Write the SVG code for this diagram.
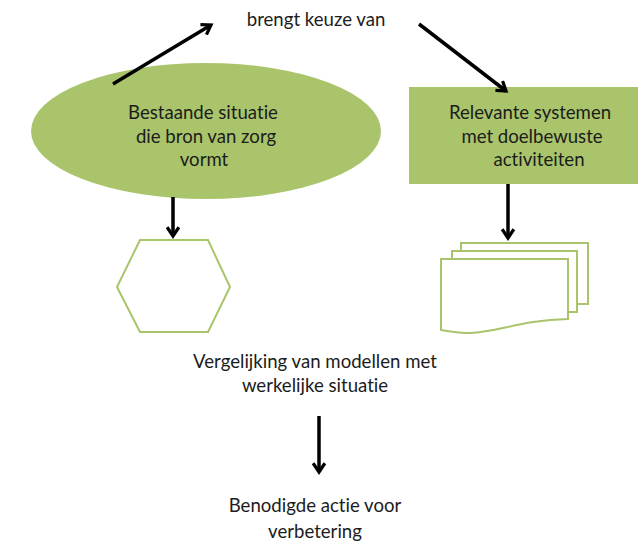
<svg xmlns="http://www.w3.org/2000/svg" width="638" height="541" viewBox="0 0 638 541">
  <style>
    .lbl { font-family: Lato, "Open Sans", "Liberation Sans", sans-serif; font-size: 18.6px; fill: #1c1c1c; text-anchor: middle; font-variant-ligatures: none; font-feature-settings: "liga" 0, "dlig" 0; }
    .fill { fill: #a9c46a; }
    .outline { fill: #ffffff; stroke: #a9c46a; stroke-width: 2; }
    .conn { stroke: #000000; stroke-width: 3.5; fill: none; marker-end: url(#chev); }
  </style>
  <defs>
    <marker id="chev" viewBox="0 0 10 10" refX="8" refY="5" markerWidth="4.2" markerHeight="4.2" orient="auto" markerUnits="strokeWidth">
      <path d="M2,1 L8,5 L2,9" fill="none" stroke="#000" stroke-width="2.2"/>
    </marker>
  </defs>

  <g id="title-label">
    <text class="lbl" x="316" y="26">brengt keuze van</text>
  </g>

  <g id="existing-situation">
    <ellipse class="fill" cx="206" cy="131" rx="175" ry="68"/>
    <text class="lbl" x="203" y="119">Bestaande situatie</text>
    <text class="lbl" x="206" y="143">die bron van zorg</text>
    <text class="lbl" x="204" y="166">vormt</text>
  </g>

  <g id="relevant-systems">
    <rect class="fill" x="409" y="87" width="229" height="97"/>
    <text class="lbl" x="530" y="119">Relevante systemen</text>
    <text class="lbl" x="532" y="143">met doelbewuste</text>
    <text class="lbl" x="539" y="166">activiteiten</text>
  </g>

  <g id="hexagon">
    <polygon class="outline" points="140,240 208,240 230,287 208,332 140,332 117,287"/>
  </g>

  <g id="documents">
    <rect class="outline" x="461" y="243" width="127" height="61"/>
    <rect class="outline" x="452" y="251" width="125" height="61"/>
    <path class="outline" d="M441,259 H568 V319 C520,320 500,332 470,333 C458,333 448,331 441,330 Z"/>
  </g>

  <g id="comparison">
    <text class="lbl" x="315" y="368">Vergelijking van modellen met</text>
    <text class="lbl" x="315" y="392">werkelijke situatie</text>
  </g>

  <g id="action">
    <text class="lbl" x="315" y="512">Benodigde actie voor</text>
    <text class="lbl" x="315" y="538">verbetering</text>
  </g>

  <g id="connectors">
    <line class="conn" x1="113" y1="84" x2="211" y2="25"/>
    <line class="conn" x1="419" y1="24" x2="506" y2="91"/>
    <line class="conn" x1="173" y1="197" x2="173" y2="236"/>
    <line class="conn" x1="508" y1="184" x2="508" y2="238"/>
    <line class="conn" x1="319" y1="416" x2="319" y2="472"/>
  </g>
</svg>
